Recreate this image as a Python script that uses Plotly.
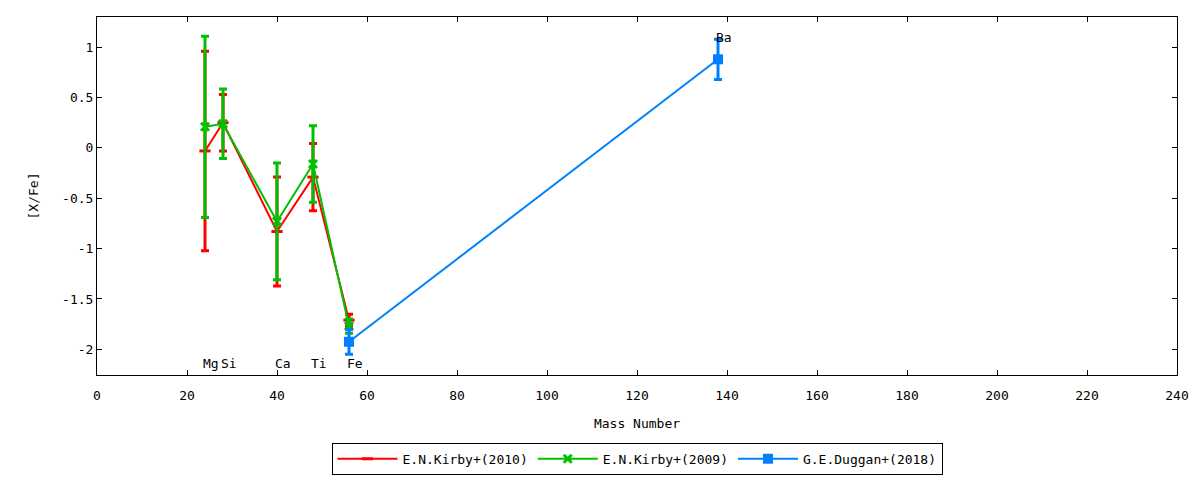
import plotly.graph_objects as go

# element labels and mass numbers
elements = ["Mg", "Si", "Ca", "Ti", "Fe"]
mass_kirby = [24, 28, 40, 48, 56]

# E.N.Kirby+(2010)
kirby2010_xfe = [-0.03, 0.25, -0.83, -0.29, -1.71]
kirby2010_err = [0.99, 0.28, 0.54, 0.335, 0.058]

# E.N.Kirby+(2009)
kirby2009_xfe = [0.21, 0.24, -0.73, -0.16, -1.77]
kirby2009_err = [0.90, 0.345, 0.58, 0.38, 0.07]

# G.E.Duggan+(2018)
duggan_elements = ["Fe", "Ba"]
mass_duggan = [56, 138]
duggan_xfe = [-1.925, 0.88]
duggan_err = [0.125, 0.20]

font = dict(family="DejaVu Sans Mono", size=13, color="black")

fig = go.Figure()

fig.add_trace(go.Scatter(
    x=mass_kirby, y=kirby2010_xfe,
    mode="lines+markers",
    name="E.N.Kirby+(2010)",
    line=dict(color="#ff0000", width=2),
    marker=dict(symbol="line-ew", size=8, line=dict(color="#ff0000", width=3)),
    error_y=dict(type="data", array=kirby2010_err, color="#ff0000", thickness=3, width=4),
))

fig.add_trace(go.Scatter(
    x=mass_kirby, y=kirby2009_xfe,
    mode="lines+markers",
    name="E.N.Kirby+(2009)",
    line=dict(color="#00c000", width=2),
    marker=dict(symbol="x-thin", size=8, line=dict(color="#00c000", width=3)),
    error_y=dict(type="data", array=kirby2009_err, color="#00c000", thickness=3, width=4),
))

fig.add_trace(go.Scatter(
    x=mass_duggan, y=duggan_xfe,
    mode="lines+markers",
    name="G.E.Duggan+(2018)",
    line=dict(color="#0080ff", width=2),
    marker=dict(symbol="square", size=10, color="#0080ff"),
    error_y=dict(type="data", array=duggan_err, color="#0080ff", thickness=3, width=4),
))

# element name labels
for el, m in zip(elements, mass_kirby):
    fig.add_annotation(x=m, y=-2.14, text=el, showarrow=False,
                       xanchor="left", yanchor="middle", xshift=-4, font=font)
fig.add_annotation(x=mass_duggan[1], y=1.1, text=duggan_elements[1], showarrow=False,
                   xanchor="left", yanchor="middle", xshift=-4, font=font)

axis_style = dict(
    showline=True, linecolor="black", linewidth=1, mirror="allticks",
    ticks="inside", ticklen=5, tickcolor="black", showgrid=False, zeroline=False,
    tickfont=font, title_font=font,
)

fig.update_xaxes(range=[0, 240], dtick=20, title_text="Mass Number",
                 ticklabelstandoff=8, title_standoff=17, **axis_style)
fig.update_yaxes(range=[-2.255, 1.3], tickvals=[-2, -1.5, -1, -0.5, 0, 0.5, 1],
                 ticktext=["-2", "-1.5", "-1", "-0.5", "0", "0.5", "1"],
                 title_text="[X/Fe]", title_standoff=20, **axis_style)

# page body adds an 8px offset, so the figure is sized to fit the window
fig.update_layout(
    width=1192, height=472,
    margin=dict(l=89, r=23, t=9, b=105, autoexpand=False),
    plot_bgcolor="white", paper_bgcolor="white",
    font=font,
    showlegend=True,
    legend=dict(orientation="h", x=0.5, xanchor="center",
                yref="container", y=0.045, yanchor="middle",
                bordercolor="black", borderwidth=1, bgcolor="white",
                font=font, itemwidth=60),
)

fig.write_html("out.html")
